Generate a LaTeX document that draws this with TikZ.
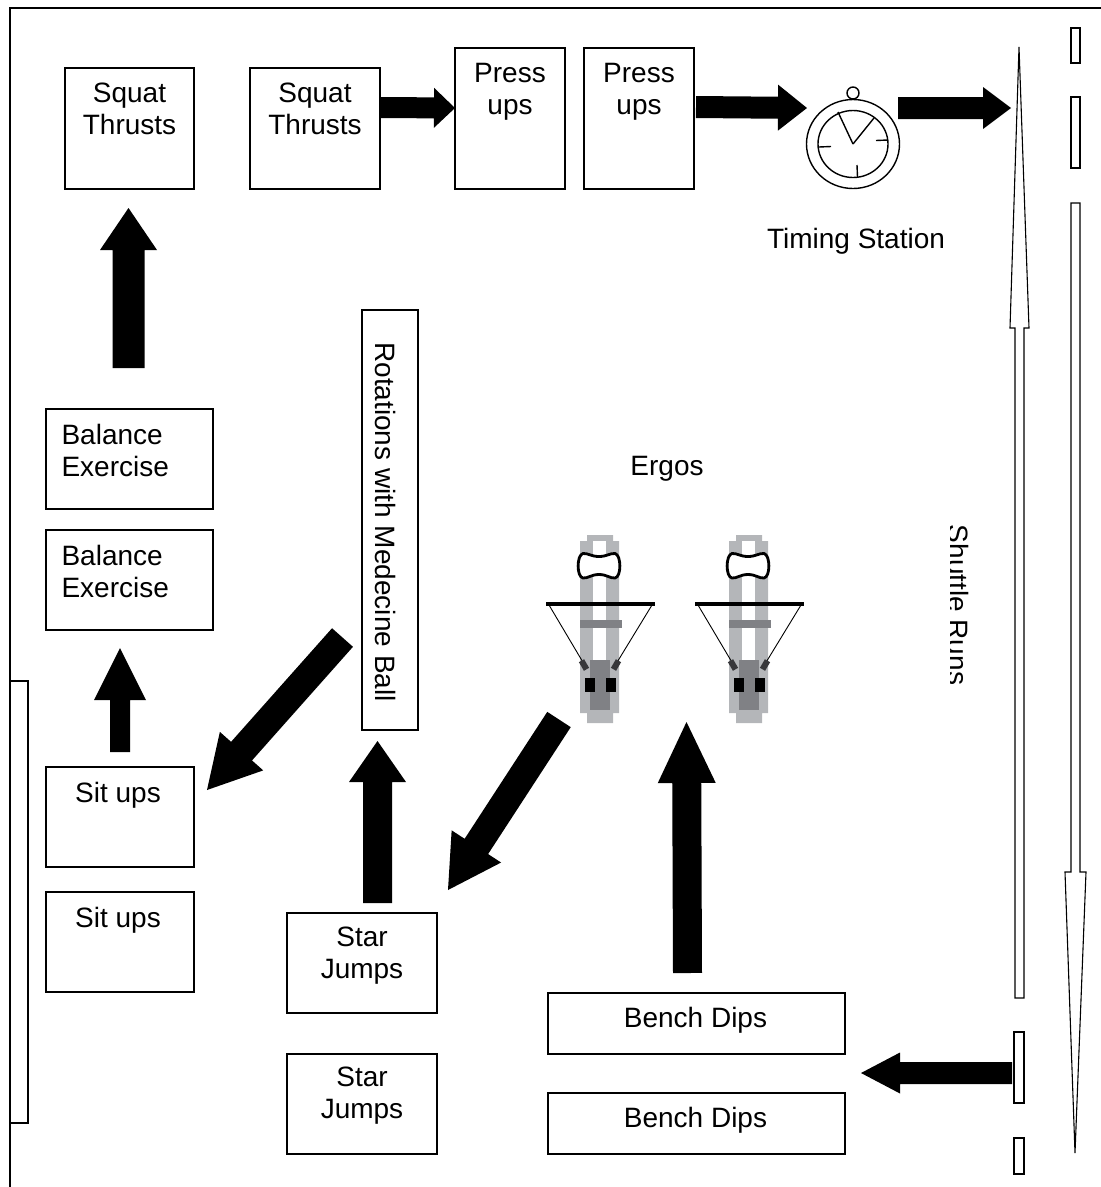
\documentclass[tikz,border=0pt]{standalone}
\usepackage{fontspec}
\setmainfont{Liberation Sans}
\usetikzlibrary{calc}
\definecolor{ergolight}{RGB}{180,182,185}
\definecolor{ergodark}{RGB}{128,129,133}
\definecolor{strapc}{RGB}{55,55,58}
\tikzset{
  box/.style={draw=black, line width=1.3pt, inner sep=0pt},
  lbl/.style={font=\fontsize{28}{32}\selectfont, inner sep=0pt, align=center},
  lbll/.style={font=\fontsize{28}{32}\selectfont, inner sep=0pt, align=left},
  blk/.style={fill=black},
  thinline/.style={draw=black, line width=1.1pt, fill=white},
}
\newcommand{\boxat}[5]{\node[box, minimum width={#4-#2}, minimum height={#5-#3}] (#1) at ({(#2+#4)/2},{(#3+#5)/2}) {};}
\newcommand{\blkarrow}[5]{%
  \coordinate (#1#2h) at ($(#2)!#5pt!(#1)$);
  \fill[blk] ($(#1)!#3pt!90:(#2)$) -- ($(#1#2h)!#3pt!90:(#2)$) -- ($(#1#2h)!#4pt!90:(#2)$) -- (#2)
    -- ($(#1#2h)!#4pt!-90:(#2)$) -- ($(#1#2h)!#3pt!-90:(#2)$) -- ($(#1)!#3pt!-90:(#2)$) -- cycle;}
\newcommand{\ergomachine}{%
  \fill[ergolight] (587,535) -- (613,535) -- (613,541) -- (619,541) -- (619,713) -- (613,713)
    -- (613,723) -- (587,723) -- (587,713) -- (580,713) -- (580,541) -- (587,541) -- cycle;
  \fill[white] (593,541) rectangle (606,660);
  \fill[ergodark] (580,620) rectangle (622,628);
  \fill[ergodark] (590,660) rectangle (610,710);
  \fill[black] (585,678) rectangle (595,692);
  \fill[black] (606,678) rectangle (616,692);
  \fill[black] (546,602) rectangle (655,606);
  \draw[line width=0.9pt] (549,605) -- (584,664);
  \draw[line width=0.9pt] (652,605) -- (616,664);
  \draw[line width=6pt, strapc] (581.5,660.7) -- (586.5,669.3);
  \draw[line width=6pt, strapc] (618.5,660.7) -- (613.5,669.3);
  \draw[line width=2.8pt, fill=white] (599,556.5) .. controls (607,556.5) and (610,553) .. (615,553.5)
    .. controls (621.5,555) and (621.5,577) .. (615,578)
    .. controls (610,578.5) and (607,574.5) .. (599,574.5)
    .. controls (591,574.5) and (588,578.5) .. (583,578)
    .. controls (576.5,577) and (576.5,555) .. (583,553.5)
    .. controls (588,553) and (591,556.5) .. (599,556.5) -- cycle;
}
\begin{document}
\begin{tikzpicture}[x=1pt,y=-1pt]
\useasboundingbox (0,0) rectangle (1101,1187);
% frame
\draw[line width=1.2pt] (10,1187) -- (10,8) -- (1101,8);
\draw[thinline] (10,681) rectangle (28,1123);

% boxes
\boxat{sq1}{65}{68}{194}{189}
\boxat{sq2}{250}{68}{380}{189}
\boxat{pu1}{455}{48}{565}{189}
\boxat{pu2}{584}{48}{694}{189}
\boxat{bal1}{46}{409}{213}{509}
\boxat{bal2}{46}{530}{213}{630}
\boxat{sit1}{46}{767}{194}{867}
\boxat{sit2}{46}{892}{194}{992}
\boxat{rot}{362}{310}{418}{730}
\boxat{sj1}{287}{913}{437}{1013}
\boxat{sj2}{287}{1054}{437}{1154}
\boxat{bd1}{548}{993}{845}{1054}
\boxat{bd2}{548}{1093}{845}{1154}

% box texts
\node[lbl, anchor=north] (sq1t) at ($(sq1.north)+(0,15.3)$) {Squat\\Thrusts};
\node[lbl, anchor=north] (sq2t) at ($(sq2.north)+(0,15.3)$) {Squat\\Thrusts};
\node[lbl, anchor=north] (pu1t) at ($(pu1.north)+(0,15.8)$) {Press\\ups};
\node[lbl, anchor=north] (pu2t) at ($(pu2.north)+(0,15.8)$) {Press\\ups};
\node[lbll, anchor=north west] (bal1t) at ($(bal1.north west)+(16,15.8)$) {Balance\\Exercise};
\node[lbll, anchor=north west] (bal2t) at ($(bal2.north west)+(16,15.8)$) {Balance\\Exercise};
\node[lbl, anchor=base] (sit1t) at ($(sit1.north)+(-2,36)$) {Sit ups};
\node[lbl, anchor=base] (sit2t) at ($(sit2.north)+(-2,36)$) {Sit ups};
\node[lbl, anchor=north] (sj1t) at ($(sj1.north)+(0,14.3)$) {Star\\Jumps};
\node[lbl, anchor=north] (sj2t) at ($(sj2.north)+(0,13.8)$) {Star\\Jumps};
\node[lbl, anchor=base] (bd1t) at ($(bd1.north)+(-1,35)$) {Bench Dips};
\node[lbl, anchor=base] (bd2t) at ($(bd2.north)+(-1,35)$) {Bench Dips};
\node[lbl, rotate=-90] (rott) at (385.5,522) {Rotations with Medecine Ball};
\node[lbl, anchor=base] (timing) at (856,248) {Timing Station};
\node[lbl, anchor=base] (ergos) at (667,475) {Ergos};
\begin{scope}
  \clip (950.5,480) rectangle (1000,720);
  \node[lbl, rotate=-90, anchor=base] (shuttle) at (948,605) {Shuttle Runs};
\end{scope}

% stopwatch
\coordinate (watch) at (853,144);
\draw[line width=1.4pt] (853,93) circle [radius=6];
\draw[line width=1.4pt, fill=white] (watch) ellipse [x radius=46.5, y radius=44.5];
\draw[line width=1.4pt] (watch) ellipse [x radius=35, y radius=33.5];
\draw[line width=1.4pt] (watch) -- (838,112);
\draw[line width=1.4pt] (watch) -- (874,118);
\draw[line width=1.4pt] (819,147) -- (831,146.5);
\draw[line width=1.4pt] (876,140.5) -- (888,140);
\draw[line width=1.4pt] (857,165) -- (857.5,177);

% ergos
\ergomachine
\begin{scope}[shift={(149,0)}]
  \ergomachine
\end{scope}

% shuttle run lanes
\draw[thinline] (1019,47) -- (1029,328) -- (1024,328) -- (1024,998) -- (1015,998) -- (1015,328) -- (1010,328) -- cycle;
\draw[thinline] (1075,1153) -- (1086,872) -- (1080,872) -- (1080,203) -- (1071,203) -- (1071,872) -- (1065,872) -- cycle;
\draw[thinline] (1071,28) rectangle (1080,63);
\draw[thinline] (1071,97) rectangle (1080,168);
\draw[thinline] (1014,1032) rectangle (1024,1103);
\draw[thinline] (1014,1138) rectangle (1024,1174);

% block arrows
\coordinate (a1s) at (380,107.5);   \coordinate (a1e) at (455,108);
\coordinate (a2s) at (696,107);     \coordinate (a2e) at (807,108);
\coordinate (a3s) at (898,108);     \coordinate (a3e) at (1011,108);
\coordinate (a4s) at (128.5,368);   \coordinate (a4e) at (128.5,208);
\coordinate (a5s) at (120,752);     \coordinate (a5e) at (120,648);
\coordinate (a6s) at (342.5,637.5); \coordinate (a6e) at (207,790);
\coordinate (a7s) at (377.5,903);   \coordinate (a7e) at (377.5,741);
\coordinate (a8s) at (559,719.5);   \coordinate (a8e) at (448,890);
\coordinate (a9s) at (687.5,973);   \coordinate (a9e) at (686.5,722);
\coordinate (a10s) at (1012,1073);  \coordinate (a10e) at (861,1073);
\blkarrow{a1s}{a1e}{10.5}{20}{21}
\blkarrow{a2s}{a2e}{11}{23}{29}
\blkarrow{a3s}{a3e}{11}{21}{28}
\blkarrow{a4s}{a4e}{16}{28.5}{42}
\blkarrow{a5s}{a5e}{10}{26}{52}
\blkarrow{a6s}{a6e}{14}{29}{52}
\blkarrow{a7s}{a7e}{14.5}{28.5}{41}
\blkarrow{a8s}{a8e}{14}{29.5}{52}
\blkarrow{a9s}{a9e}{14.5}{29}{61}
\blkarrow{a10s}{a10e}{11}{20.5}{39}
\end{tikzpicture}
\end{document}
